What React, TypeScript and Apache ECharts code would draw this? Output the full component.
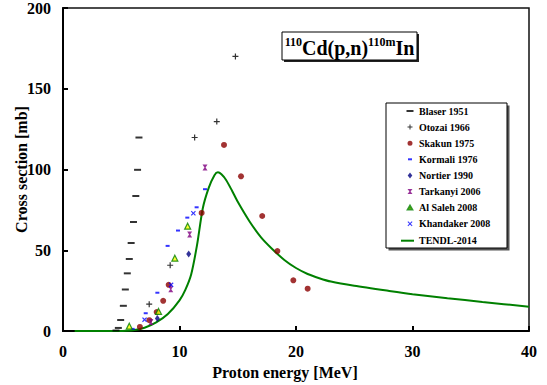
import React, { useEffect, useRef } from 'react';
import * as echarts from 'echarts';

const FONT = "'Liberation Serif', 'Times New Roman', Times, serif";

// Axis settings
const xRange = [0, 40];
const xStep = 10;
const yRange = [0, 200];
const yStep = 50;

// Experimental data (MeV, mb)
const blaserX = [4.55, 4.75, 4.95, 5.18, 5.35, 5.52, 5.69, 5.85, 6.05, 6.25, 6.4, 6.52];
const blaserY = [0.3, 1.9, 6.8, 15.6, 25.7, 35.7, 44.6, 54.5, 67.5, 83.6, 99.8, 119.8];

const otozaiX = [7.4, 9.2, 11.3, 13.2, 14.8];
const otozaiY = [16.6, 40.7, 119.8, 129.7, 170];

const skakunX = [6.6, 7.41, 8.04, 8.6, 9.07, 11.9, 13.82, 15.28, 17.1, 18.4, 19.77, 21.0];
const skakunY = [2.5, 6.7, 11.7, 18.7, 28.6, 73.1, 115.2, 95.8, 71.2, 49.5, 31.4, 26.2];

const kormaliX = [5.98, 7.1, 8.1, 8.98, 9.87, 10.67, 11.47, 12.19];
const kormaliY = [1.3, 11, 23.7, 52.7, 62.2, 70.2, 76.6, 87.8];

const nortierX = [8.1, 10.79];
const nortierY = [7.7, 47.7];

const tarkanyiX = [7.55, 9.25, 10.87, 12.19];
const tarkanyiY = [5.6, 25.9, 59.7, 101.2];

const alSalehX = [5.69, 8.2, 9.6, 10.7];
const alSalehY = [3.0, 12.1, 45.1, 64.9];

const khandakerX = [7.0, 9.28, 11.19];
const khandakerY = [7.0, 28.6, 72.9];

// TENDL-2014 evaluation
const tendlX = [1, 4, 5, 6, 7, 8, 9, 10, 10.5, 11, 11.5, 12, 12.5, 13, 13.3, 13.6, 14, 14.5, 15, 16, 17, 18, 19, 20, 21, 22, 23, 25, 28, 30, 33, 36, 40];
const tendlY = [0, 0, 0.05, 0.4, 2, 5.3, 10.5, 19, 25.5, 35, 53, 76, 88.5, 96.5, 98.3, 97, 93.5, 87, 80, 68, 58, 50.5, 44, 39, 35.3, 32.7, 30.6, 28, 24.8, 22.8, 20.3, 18, 15];

const seriesNames = [
  'Blaser 1951',
  'Otozai 1966',
  'Skakun 1975',
  'Kormali 1976',
  'Nortier 1990',
  'Tarkanyi 2006',
  'Al Saleh 2008',
  'Khandaker 2008',
];
const lineName = 'TENDL-2014';

const zip = (xs: number[], ys: number[]) => xs.map((x, i) => [x, ys[i]]);

const PLUS = 'path://M2,0h1v5h-1z M0,2h5v1h-5z';
const CROSS = 'path://M0,1L1,0L3,2L5,0L6,1L4,3L6,5L5,6L3,4L1,6L0,5L2,3Z';
const HOURGLASS = 'path://M0,0H6L3.7,3L6,6H0L2.3,3Z';

// legend icons (8x6 frame kept via move-to points)
const legendIcons = [
  'path://M0,0M8,6M0.5,2H7.5V4H0.5Z',
  'path://M0,0M8,6M3.5,0.5h1v5h-1z M1.5,2.5h5v1h-5z',
  'path://M0,0M8,6M6.5,3A2.5,2.5,0,1,1,1.5,3A2.5,2.5,0,1,1,6.5,3Z',
  'path://M0,0M8,6M2,2H6V4H2Z',
  'path://M0,0M8,6M4,0L6.3,3L4,6L1.7,3Z',
  'path://M0,0M8,6M1.5,0.5H6.5L4.6,3L6.5,5.5H1.5L3.4,3Z',
  'path://M0,0M8,6M4,1.2L6.2,5H1.8Z',
  'path://M0,0M8,6M1.5,1.2L2.2,0.5L4,2.3L5.8,0.5L6.5,1.2L4.7,3L6.5,4.8L5.8,5.5L4,3.7L2.2,5.5L1.5,4.8L3.3,3Z',
];

export default function App() {
  const ref = useRef<HTMLDivElement>(null);

  useEffect(() => {
    if (!ref.current) return;
    const chart = echarts.init(ref.current, null, { renderer: 'svg' });

    const labelStyle = { fontFamily: FONT, fontWeight: 'bold' as const, fontSize: 16, color: '#000' };

    const option: any = {
      animation: false,
      backgroundColor: '#fff',
      grid: {
        left: 63,
        right: 18,
        top: 8,
        bottom: 54,
        show: true,
        borderColor: '#111',
        borderWidth: 1.5,
        backgroundColor: 'transparent',
        containLabel: false,
        outerBoundsMode: 'none',
      },
      xAxis: {
        type: 'value',
        min: xRange[0],
        max: xRange[1],
        interval: xStep,
        name: 'Proton energy [MeV]',
        nameLocation: 'middle',
        nameGap: 33,
        nameMoveOverlap: false,
        nameTextStyle: { ...labelStyle, padding: [0, 22, 0, 0] },
        axisLine: { show: true, onZero: false, lineStyle: { color: '#000', width: 2 } },
        axisTick: { show: true, inside: true, length: 5, lineStyle: { color: '#000', width: 2 } },
        axisLabel: { ...labelStyle, margin: 12 },
        splitLine: { show: false },
      },
      yAxis: {
        type: 'value',
        min: yRange[0],
        max: yRange[1],
        interval: yStep,
        name: 'Cross section [mb]',
        nameLocation: 'middle',
        nameGap: 34,
        nameMoveOverlap: false,
        nameTextStyle: labelStyle,
        axisLine: { show: true, onZero: false, lineStyle: { color: '#000', width: 2 } },
        axisTick: { show: true, inside: true, length: 5, lineStyle: { color: '#000', width: 2 } },
        axisLabel: { ...labelStyle, margin: 12 },
        splitLine: { show: false },
      },
      legend: [
        {
          orient: 'vertical',
          left: 405,
          top: 105,
          padding: 0,
          itemWidth: 8,
          itemHeight: 6,
          itemGap: 4.1,
          selectedMode: false,
          textStyle: { fontFamily: FONT, fontWeight: 'bold', fontSize: 10, lineHeight: 12, color: '#000' },
          data: seriesNames.map((n, i) => ({ name: n, icon: legendIcons[i] })),
        },
        {
          orient: 'vertical',
          left: 401,
          top: 234.7,
          padding: 0,
          itemWidth: 13,
          itemHeight: 2,
          selectedMode: false,
          textStyle: { fontFamily: FONT, fontWeight: 'bold', fontSize: 10, lineHeight: 12, color: '#000' },
          data: [{ name: lineName, icon: 'rect' }],
        },
      ],
      graphic: [
        {
          type: 'group',
          z: 0,
          children: [
            { type: 'rect', shape: { x: 388.5, y: 105.5, width: 121, height: 145 }, style: { fill: '#555' } },
            { type: 'rect', shape: { x: 386, y: 103, width: 121, height: 145 }, style: { fill: '#fff', stroke: '#000', lineWidth: 1 } },
          ],
        },
        {
          type: 'group',
          z: 10,
          children: [
            { type: 'rect', shape: { x: 284, y: 34, width: 135, height: 28 }, style: { fill: '#222' } },
            { type: 'rect', shape: { x: 282, y: 32, width: 135, height: 28 }, style: { fill: '#fff', stroke: '#000', lineWidth: 1 } },
            {
              type: 'text',
              x: 349.5,
              y: 46.5,
              style: {
                text: '{s|110}{m|Cd(p,n)}{s|110m}{m|In}',
                align: 'center',
                verticalAlign: 'middle',
                fill: '#000',
                rich: {
                  s: { fontFamily: FONT, fontWeight: 'bold', fontSize: 12, lineHeight: 14, verticalAlign: 'top', fill: '#000' },
                  m: { fontFamily: FONT, fontWeight: 'bold', fontSize: 20, lineHeight: 22, verticalAlign: 'bottom', fill: '#000' },
                },
              },
            },
          ],
        },
      ],
      series: [
        {
          name: seriesNames[0], type: 'scatter', data: zip(blaserX, blaserY),
          symbol: 'rect', symbolSize: [7, 2], itemStyle: { color: '#000' },
        },
        {
          name: seriesNames[1], type: 'scatter', data: zip(otozaiX, otozaiY),
          symbol: PLUS, symbolSize: [6, 6], itemStyle: { color: '#000' },
        },
        {
          name: seriesNames[2], type: 'scatter', data: zip(skakunX, skakunY),
          symbol: 'circle', symbolSize: 6, itemStyle: { color: '#8b0000' },
        },
        {
          name: seriesNames[3], type: 'scatter', data: zip(kormaliX, kormaliY),
          symbol: 'rect', symbolSize: [4, 2], itemStyle: { color: '#0000ff' },
        },
        {
          name: seriesNames[4], type: 'scatter', data: zip(nortierX, nortierY),
          symbol: 'diamond', symbolSize: [5, 7], itemStyle: { color: '#000080' },
        },
        {
          name: seriesNames[5], type: 'scatter', data: zip(tarkanyiX, tarkanyiY),
          symbol: HOURGLASS, symbolSize: [5, 6], itemStyle: { color: '#800080' },
        },
        {
          name: seriesNames[6], type: 'scatter', data: zip(alSalehX, alSalehY),
          symbol: 'triangle', symbolSize: [6, 6],
          itemStyle: { color: '#ffff00', borderColor: '#008000', borderWidth: 1.2 },
        },
        {
          name: seriesNames[7], type: 'scatter', data: zip(khandakerX, khandakerY),
          symbol: CROSS, symbolSize: [5, 5], itemStyle: { color: '#0000ff' },
        },
        {
          name: lineName, type: 'line', data: zip(tendlX, tendlY),
          symbol: 'none', smooth: 0.25, lineStyle: { color: '#008000', width: 2 },
          itemStyle: { color: '#008000' }, z: 1,
        },
      ],
    };

    chart.setOption(option);
    return () => chart.dispose();
  }, []);

  return <div ref={ref} style={{ position: 'absolute', left: 0, top: 0, width: 547, height: 385 }} />;
}
